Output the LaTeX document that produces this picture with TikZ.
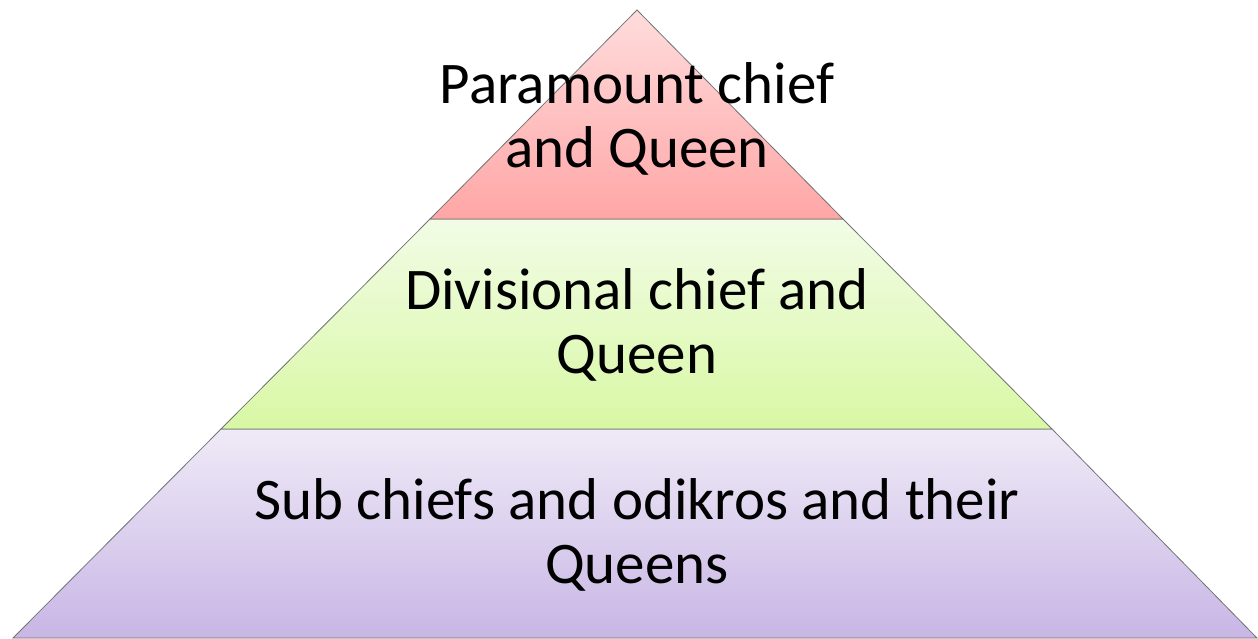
\documentclass[tikz,border=0pt]{standalone}
\usepackage{fontspec}
\setmainfont{Carlito}
\definecolor{redtop}{HTML}{FFDCDC}
\definecolor{redbot}{HTML}{FFA6A6}
\definecolor{greentop}{HTML}{F2FCE6}
\definecolor{greenbot}{HTML}{D8F8A4}
\definecolor{purpletop}{HTML}{EFEAF7}
\definecolor{purplebot}{HTML}{C8B6E5}
\tikzset{
  tier/.style={draw=gray!90!black, line width=0.8pt, line join=miter},
  tiertext/.style={font=\fontsize{59}{64}\selectfont, align=center, text=black, inner sep=0pt}
}
\begin{document}
\begin{tikzpicture}[x=1pt,y=-1pt]
      \useasboundingbox (0,0) rectangle (1258,638);
      \coordinate (T) at (637,10);
      \coordinate (L1) at (430,219);
      \coordinate (R1) at (843,219);
      \coordinate (L2) at (221,429);
      \coordinate (R2) at (1052,429);
      \coordinate (L3) at (13,638);
      \coordinate (R3) at (1257,638);
      \shade[tier, top color=purpletop, bottom color=purplebot] (L2) -- (R2) -- (R3) -- (L3) -- cycle;
      \shade[tier, top color=greentop, bottom color=greenbot] (L1) -- (R1) -- (R2) -- (L2) -- cycle;
      \shade[tier, top color=redtop, bottom color=redbot] (T) -- (R1) -- (L1) -- cycle;
      \node[tiertext, anchor=base] (paramount) at (637,167) {Paramount chief\\and Queen};
      \node[tiertext, anchor=base] (divisional) at (637,373) {Divisional chief and\\Queen};
      \node[tiertext, anchor=base] (sub) at (637,583) {Sub chiefs and odikros and their\\Queens};
    \end{tikzpicture}
\end{document}
